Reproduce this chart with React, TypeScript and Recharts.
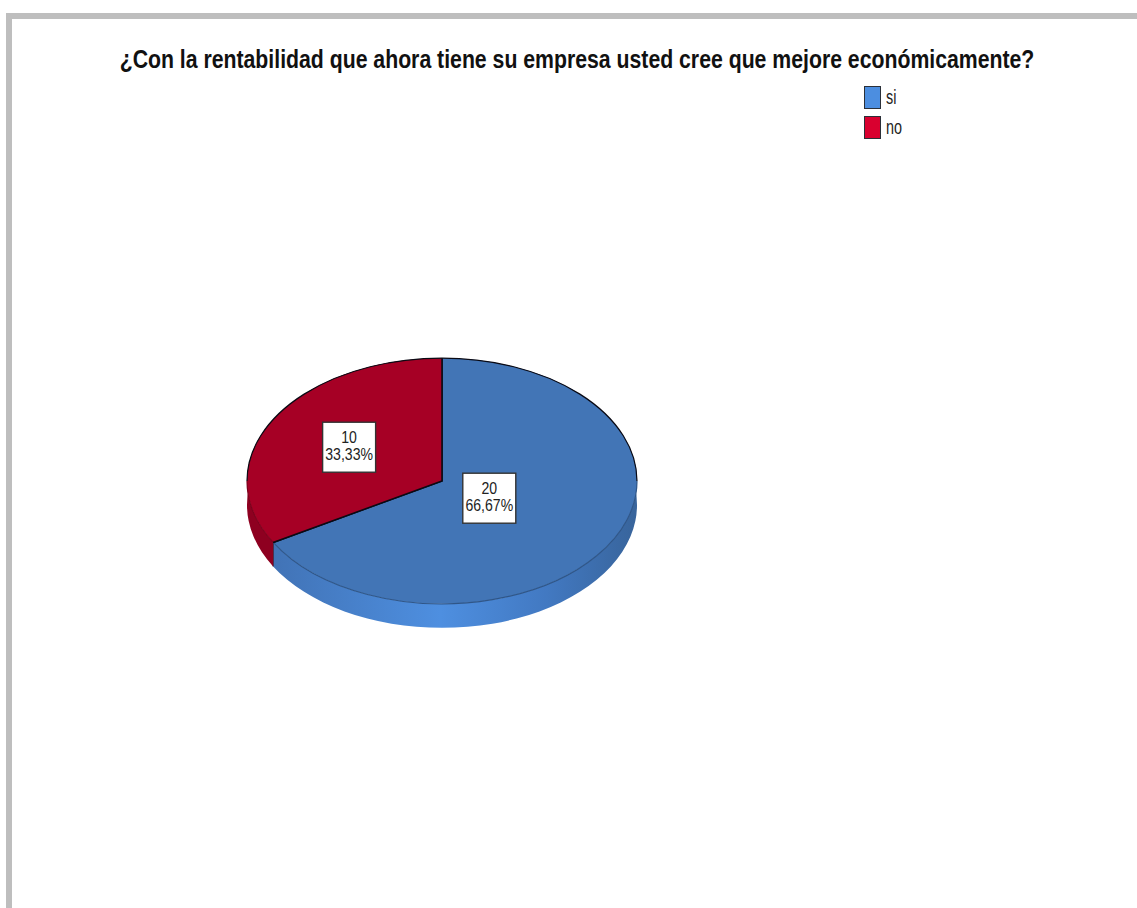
import { Legend, Pie, PieChart } from "recharts";

const CHART_TITLE =
  "¿Con la rentabilidad que ahora tiene su empresa usted cree que mejore económicamente?";
const categories = ["si", "no"];
const counts = [20, 10];
const topColors = ["#4275b6", "#a60025"];
const edgeColors = ["#2f5688", "#7c001c"];
const legendColors = ["#4c8ee0", "#d9002f"];
const wallColors = ["url(#blueWall)", "#8e0020"];
const labelReach = [0.28, 0.55];

const data = categories.map((name, i) => ({
  name,
  value: counts[i],
  fill: topColors[i],
}));
const wallData = categories.map((name, i) => ({
  name,
  value: counts[i],
  fill: wallColors[i],
}));

const FONT = "'Liberation Sans', sans-serif";
const SQUASH = 0.63;
const DEPTH = 24;
const RAD = Math.PI / 180;

// pie is tilted, so every point goes on an ellipse instead of a circle
const pt = (cx: number, cy: number, r: number, deg: number, dy = 0) => ({
  x: cx + r * Math.cos(deg * RAD),
  y: cy - r * SQUASH * Math.sin(deg * RAD) + dy,
});

const arc = (cx: number, cy: number, r: number, from: number, to: number, dy = 0) => {
  const end = pt(cx, cy, r, to, dy);
  const large = Math.abs(from - to) > 180 ? 1 : 0;
  const sweep = to < from ? 1 : 0;
  return `A${r} ${r * SQUASH} 0 ${large} ${sweep} ${end.x} ${end.y}`;
};

function TopSlice(props: any) {
  const { cx, cy, outerRadius: r, startAngle: a, endAngle: b, fill, index } = props;
  const s = pt(cx, cy, r, a);
  const e = pt(cx, cy, r, b);
  const front = edgeColors[index];
  // the black outline only runs along the back half, the front rim stays soft
  const rim =
    a > 0
      ? [
          { from: a, to: 0, stroke: "#0a0a14" },
          { from: 0, to: b, stroke: front },
        ]
      : [
          { from: a, to: -180, stroke: front },
          { from: -180, to: b, stroke: "#0a0a14" },
        ];
  return (
    <g>
      <path d={`M${cx} ${cy}L${s.x} ${s.y}${arc(cx, cy, r, a, b)}Z`} fill={fill} />
      {rim.map((seg) => {
        const p = pt(cx, cy, r, seg.from);
        return (
          <path
            key={seg.from}
            d={`M${p.x} ${p.y}${arc(cx, cy, r, seg.from, seg.to)}`}
            fill="none"
            stroke={seg.stroke}
            strokeWidth={1.2}
          />
        );
      })}
      <path
        d={`M${e.x} ${e.y}L${cx} ${cy}L${s.x} ${s.y}`}
        fill="none"
        stroke="#0a0a14"
        strokeWidth={1.5}
      />
    </g>
  );
}

function WallSlice(props: any) {
  const { cx, cy, outerRadius: r, startAngle: a, endAngle: b, fill } = props;
  const s = pt(cx, cy, r, a);
  const e = pt(cx, cy, r, b);
  const e2 = pt(cx, cy, r, b, DEPTH);
  return (
    <g>
      <path
        d={`M${s.x} ${s.y}${arc(cx, cy, r, a, b)}L${e2.x} ${e2.y}${arc(cx, cy, r, b, a, DEPTH)}Z`}
        fill={fill}
      />
      <path d={`M${e.x} ${e.y}L${e2.x} ${e2.y}`} stroke="#2a1020" strokeWidth={1} />
    </g>
  );
}

function SliceLabel(props: any) {
  const { cx, cy, outerRadius, midAngle, value, percent, index } = props;
  const { x, y } = pt(cx, cy, outerRadius * labelReach[index], midAngle);
  return (
    <g fontFamily={FONT} fontSize={16} fill="#222" textAnchor="middle">
      <rect
        x={x - 26.5}
        y={y - 25}
        width={53}
        height={50}
        fill="#fff"
        stroke="#333"
        strokeWidth={1.4}
      />
      <text transform={`translate(${x} ${y - 4}) scale(0.88 1)`}>{value}</text>
      <text transform={`translate(${x} ${y + 13}) scale(0.88 1)`}>
        {(percent * 100).toFixed(2).replace(".", ",")}%
      </text>
    </g>
  );
}

function LegendBox({ payload }: any) {
  const items = (payload ?? []).filter((item: any) => item.type !== "none");
  return (
    <div style={{ fontFamily: FONT, fontSize: 20, color: "#222" }}>
      {items.map((item: any) => (
        <div key={item.value} style={{ display: "flex", alignItems: "center", height: 30 }}>
          <span
            style={{
              boxSizing: "border-box",
              width: 17,
              height: 23,
              background: legendColors[categories.indexOf(item.value)],
              border: "1.5px solid #2b3038",
              marginRight: 5,
            }}
          />
          <span style={{ display: "inline-block", transform: "scaleX(0.72)", transformOrigin: "left center" }}>
            {item.value}
          </span>
        </div>
      ))}
    </div>
  );
}

export default function App() {
  return (
    <div
      style={{
        position: "absolute",
        left: 0,
        top: 0,
        width: 1137,
        height: 908,
        background: "#fff",
        overflow: "hidden",
      }}
    >
      <div style={{ position: "absolute", left: 6, top: 13, right: 0, height: 6, background: "#bebebe" }} />
      <div style={{ position: "absolute", left: 6, top: 13, bottom: 0, width: 6, background: "#bebebe" }} />
      <PieChart width={1137} height={908} margin={{ top: 0, right: 0, bottom: 0, left: 0 }}>
        <defs>
          <linearGradient id="blueWall" x1="0" y1="0" x2="1" y2="0">
            <stop offset="0%" stopColor="#4173b6" />
            <stop offset="46%" stopColor="#4e8fe0" />
            <stop offset="75%" stopColor="#4279c2" />
            <stop offset="100%" stopColor="#38649b" />
          </linearGradient>
        </defs>
        <text
          transform="translate(577 68) scale(0.85 1)"
          textAnchor="middle"
          fontFamily={FONT}
          fontSize={25}
          fontWeight="bold"
          fill="#111"
        >
          {CHART_TITLE}
        </text>
        <Pie
          data={wallData}
          dataKey="value"
          nameKey="name"
          cx={442}
          cy={481}
          outerRadius={195}
          startAngle={90}
          endAngle={-270}
          paddingAngle={0}
          legendType="none"
          shape={WallSlice}
          isAnimationActive={false}
        />
        <Pie
          data={data}
          dataKey="value"
          nameKey="name"
          cx={442}
          cy={481}
          outerRadius={195}
          startAngle={90}
          endAngle={-270}
          paddingAngle={0}
          shape={TopSlice}
          label={SliceLabel}
          labelLine={false}
          isAnimationActive={false}
        />
        <Legend
          content={<LegendBox />}
          layout="vertical"
          itemSorter={null}
          wrapperStyle={{ position: "absolute", left: 864, top: 82, width: 80, bottom: "auto", right: "auto" }}
        />
      </PieChart>
    </div>
  );
}
